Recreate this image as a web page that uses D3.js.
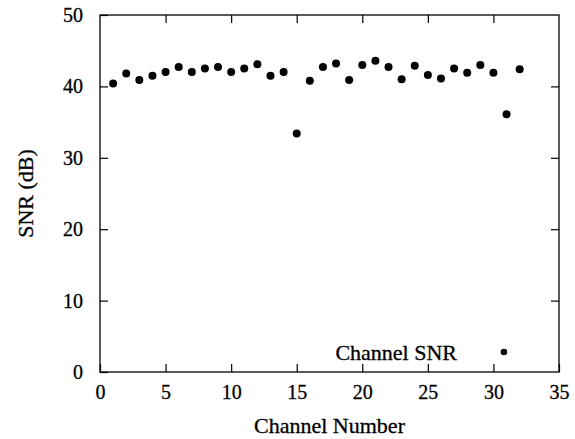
<!DOCTYPE html>
<html>
<head>
<meta charset="utf-8">
<script src="https://cdn.jsdelivr.net/npm/d3@7"></script>
<style>
  html, body { margin: 0; padding: 0; background: #ffffff; }
</style>
</head>
<body>
<svg id="chart" width="575" height="439" font-family="Liberation Serif"></svg>
<script>
const channels = [1,2,3,4,5,6,7,8,9,10,11,12,13,14,15,16,17,18,19,20,21,22,23,24,25,26,27,28,29,30,31,32];
const snrValues = [40.4,41.8,40.9,41.5,42.0,42.7,42.0,42.5,42.7,42.0,42.5,43.1,41.5,42.0,33.4,40.8,
                   42.7,43.2,40.9,43.0,43.6,42.7,41.0,42.9,41.6,41.1,42.5,41.9,43.0,41.9,36.1,42.4];
const xTicks = [0,5,10,15,20,25,30,35];
const yTicks = [0,10,20,30,40,50];
const xLabel = "Channel Number";
const yLabel = "SNR (dB)";
const legendLabel = "Channel SNR";

const FONT = "Liberation Serif";
const svg = d3.select("#chart");
const m = {left: 100, right: 16, top: 15, bottom: 67};
const W = 575, H = 439;
const x = d3.scaleLinear().domain([0,35]).range([m.left, W - m.right]);
const y = d3.scaleLinear().domain([0,50]).range([H - m.bottom, m.top]);
const tickLen = 8;
const fs = 20;

const g = svg.append("g");
g.append("g").attr("transform", `translate(0,${y(0)})`)
  .call(d3.axisBottom(x).tickValues(xTicks).tickSize(-tickLen).tickPadding(13).tickFormat(d3.format("d")))
  .call(a => a.select(".domain").remove());
g.append("g").attr("transform", `translate(0,${y(50)})`)
  .call(d3.axisTop(x).tickValues(xTicks.filter(v => v > 0 && v < 35)).tickSize(-tickLen).tickFormat(""))
  .call(a => a.select(".domain").remove());
g.append("g").attr("transform", `translate(${x(0)},0)`)
  .call(d3.axisLeft(y).tickValues(yTicks).tickSize(-tickLen).tickPadding(17).tickFormat(d3.format("d")))
  .call(a => a.select(".domain").remove());
g.append("g").attr("transform", `translate(${x(35)},0)`)
  .call(d3.axisRight(y).tickValues(yTicks.filter(v => v > 0 && v < 50)).tickSize(-tickLen).tickFormat(""))
  .call(a => a.select(".domain").remove());
g.selectAll("g").attr("font-family", FONT).attr("font-size", fs);
g.selectAll(".tick text").attr("fill", "#000").attr("font-family", FONT)
  .attr("stroke", "#000").attr("stroke-width", 0.3);
g.selectAll(".tick line").attr("stroke", "#000").attr("stroke-width", 1.2);

svg.append("rect")
  .attr("x", x(0)).attr("y", y(50))
  .attr("width", x(35) - x(0)).attr("height", y(0) - y(50))
  .attr("fill", "none").attr("stroke", "#000").attr("stroke-width", 1.3);

svg.append("g").selectAll("circle")
  .data(channels.map((c, i) => ({c, v: snrValues[i]})))
  .join("circle")
  .attr("cx", d => x(d.c)).attr("cy", d => y(d.v)).attr("r", 4)
  .attr("fill", "#000");

const lab = sel => sel.attr("font-family", FONT).attr("font-size", 22)
  .attr("fill", "#000").attr("stroke", "#000").attr("stroke-width", 0.3);

svg.append("text")
  .attr("x", (x(0) + x(35)) / 2).attr("y", 433)
  .attr("text-anchor", "middle").call(lab).text(xLabel);
svg.append("text")
  .attr("transform", `translate(33,${(y(0) + y(50)) / 2}) rotate(-90)`)
  .attr("text-anchor", "middle").call(lab).text(yLabel);

svg.append("text")
  .attr("x", 457).attr("y", 360)
  .attr("text-anchor", "end").call(lab).text(legendLabel);
svg.append("circle")
  .attr("cx", x(30.8)).attr("cy", y(2.8)).attr("r", 3.3).attr("fill", "#000");
</script>
</body>
</html>
